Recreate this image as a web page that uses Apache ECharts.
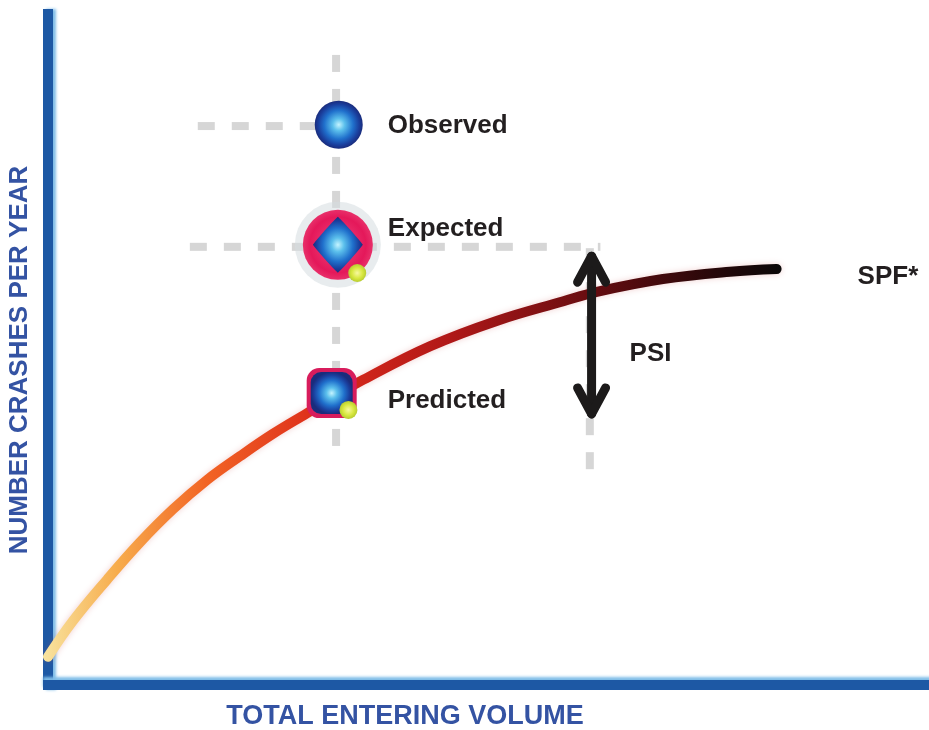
<!DOCTYPE html>
<html>
<head>
<meta charset="utf-8">
<title>Safety Performance Function</title>
<script src="https://cdn.jsdelivr.net/npm/echarts@6/dist/echarts.min.js"></script>
<style>
  html, body { margin: 0; padding: 0; background: #ffffff; }
  #chart { width: 929px; height: 730px; }
</style>
</head>
<body>
<div id="chart"></div>
<script>
// SPF curve: crashes per year against entering volume (relative units)
const curveX = [0, 2.8, 6.7, 10.4, 14.2, 18.1, 21.8, 25.5, 29.4, 32.4, 35.8, 43.4, 51.0, 58.5, 62.3, 69.8, 77.4, 82.7];
const curveY = [4.2, 9.5, 15.7, 21.2, 26.2, 30.6, 34.1, 37.4, 40.5, 42.9, 45.5, 50.5, 54.3, 57.2, 58.6, 60.5, 61.6, 62.0];

// The three crash estimates for one site
const pointNames = ['Observed', 'Expected', 'Predicted'];
const pointX = [33.0, 32.9, 32.2];
const pointY = [83.5, 65.6, 43.5];
// small badges next to Expected and Predicted
const badgeX = [35.1, 34.1];
const badgeY = [61.4, 41.0];

// dashed guide lines: [x1, y1, x2, y2]
const guides = [
  [17.0, 83.3, 30.6, 83.3],
  [32.7, 93.9, 32.7, 35.0],
  [16.1, 65.3, 62.7, 65.3],
  [61.5, 65.1, 61.5, 30.8]
];

// PSI span: x, top, bottom
const psi = [61.7, 63.9, 40.4];

const titleX = 'TOTAL ENTERING VOLUME';
const titleY = 'NUMBER CRASHES PER YEAR';
const curveName = 'SPF*';
const psiName = 'PSI';

const FONT = '"Liberation Sans", Arial, sans-serif';
const TEXT = '#231f20';
const AXIS_BLUE = '#1d58a4';
const AXIS_GLOW = '#7fbde8';
const TITLE_BLUE = '#3453a3';

function radial(stops) {
  return { type: 'radial', x: 0.5, y: 0.5, r: 0.5,
    colorStops: stops.map(s => ({ offset: s[0], color: s[1] })) };
}
const blueBall = radial([[0, '#c4f4ff'], [0.25, '#5cc0ec'], [0.6, '#2070cc'], [0.85, '#1a3f9e'], [1, '#1a2c7c']]);
const yellowDot = radial([[0, '#f8f8a0'], [0.6, '#d8e840'], [1, '#b8cc30']]);

const chart = echarts.init(document.getElementById('chart'), null, { renderer: 'canvas' });

const guideSeries = guides.map((g, i) => ({
  type: 'line',
  name: 'guide' + i,
  data: [[g[0], g[1]], [g[2], g[3]]],
  symbol: 'none',
  silent: true,
  z: 1,
  lineStyle: { color: '#d6d6d6', width: 8, type: [17, 17] }
}));

function marker(name, z, data, symbol, size, itemStyle) {
  return {
    type: 'scatter', name: name, z: z, silent: true,
    data: data, symbol: symbol, symbolSize: size,
    itemStyle: Object.assign({ opacity: 1 }, itemStyle)
  };
}

const option = {
  animation: false,
  backgroundColor: '#ffffff',
  grid: { left: 48, right: 0, top: 14, bottom: 45 },
  xAxis: {
    type: 'value', min: 0, max: 100,
    axisLine: { show: true, lineStyle: { color: AXIS_BLUE, width: 10, cap: 'square',
      shadowColor: AXIS_GLOW, shadowBlur: 3, shadowOffsetY: -3 } },
    axisTick: { show: false }, axisLabel: { show: false }, splitLine: { show: false }
  },
  yAxis: {
    type: 'value', min: 0, max: 100,
    axisLine: { show: true, lineStyle: { color: AXIS_BLUE, width: 10, cap: 'square',
      shadowColor: AXIS_GLOW, shadowBlur: 3, shadowOffsetX: 3 } },
    axisTick: { show: false }, axisLabel: { show: false }, splitLine: { show: false }
  },
  graphic: [
    {
      type: 'text', x: 405, y: 717,
      style: { text: titleX, fill: TITLE_BLUE, fontFamily: FONT, fontWeight: 'bold', fontSize: 27,
        align: 'center', verticalAlign: 'middle' }
    },
    {
      type: 'text', x: 20, y: 360, rotation: Math.PI / 2,
      style: { text: titleY, fill: TITLE_BLUE, fontFamily: FONT, fontWeight: 'bold', fontSize: 26,
        align: 'center', verticalAlign: 'middle' }
    }
  ],
  series: [
    ...guideSeries,
    {
      type: 'line',
      name: curveName,
      data: curveX.map((x, i) => [x, curveY[i]]),
      smooth: 0.4,
      symbol: 'none',
      z: 3,
      lineStyle: {
        width: 10,
        cap: 'round',
        shadowBlur: 6,
        shadowColor: 'rgba(200,70,70,0.25)',
        color: {
          type: 'linear', x: 0, y: 0, x2: 1, y2: 0,
          colorStops: [
            { offset: 0, color: '#f8e4a0' },
            { offset: 0.1, color: '#f7ac4c' },
            { offset: 0.22, color: '#f26424' },
            { offset: 0.38, color: '#dc2a1a' },
            { offset: 0.55, color: '#b01818' },
            { offset: 0.75, color: '#640c10' },
            { offset: 0.9, color: '#2a080a' },
            { offset: 1, color: '#0a0808' }
          ]
        }
      },
      endLabel: {
        show: true, formatter: curveName, distance: 81, offset: [0, 8],
        color: TEXT, fontFamily: FONT, fontWeight: 'bold', fontSize: 26
      }
    },
    // Expected: soft halo, red ring, blue core
    marker('expectedHalo', 4, [[pointX[1], pointY[1]]], 'circle', 86, { color: 'rgba(214,220,224,0.55)' }),
    marker('expectedRing', 5, [[pointX[1], pointY[1]]], 'circle', 70,
      { color: radial([[0, '#f04880'], [0.8, '#e4185a'], [1, '#e8306a']]) }),
    marker('expectedCore', 6, [[pointX[1], pointY[1]]],
      'path://M50,0 C64,12 88,36 100,50 C88,64 64,88 50,100 C36,88 12,64 0,50 C12,36 36,12 50,0 Z',
      [50, 56], { color: blueBall }),
    // Predicted: rounded square
    marker('predictedBox', 5, [[pointX[2], pointY[2]]], 'roundRect', 50, { color: '#d81c5c' }),
    marker('predictedCore', 6, [[pointX[2], pointY[2]]], 'roundRect', 42, { color: blueBall }),
    // Observed: plain ball
    marker('observed', 6, [[pointX[0], pointY[0]]], 'circle', 48, { color: blueBall }),
    marker('badges', 7, badgeX.map((x, i) => [x, badgeY[i]]), 'circle', 18, { color: yellowDot }),
    // labels for the three estimates
    {
      type: 'scatter', name: 'labels', z: 8, silent: true,
      symbolSize: 0,
      itemStyle: { opacity: 1 },
      data: pointNames.map((n, i) => ({
        name: n,
        value: [pointX[i], pointY[i]],
        label: {
          distance: [49, 50, 56][i],
          offset: [0, [1, -16, 8][i]]
        }
      })),
      label: {
        show: true, position: 'right', formatter: '{b}',
        color: TEXT, fontFamily: FONT, fontWeight: 'bold', fontSize: 26
      }
    },
    // PSI: double-headed arrow between predicted curve and expected level
    {
      type: 'custom', name: psiName, z: 9, silent: true,
      data: [psi],
      encode: { x: 0, y: [1, 2] },
      renderItem: function (params, api) {
        const top = api.coord([api.value(0), api.value(1)]);
        const bot = api.coord([api.value(0), api.value(2)]);
        const x = top[0];
        const stroke = { stroke: '#1c1a1a', lineWidth: 9, lineCap: 'round', lineJoin: 'round', fill: null };
        return {
          type: 'group',
          children: [
            { type: 'line', shape: { x1: x, y1: top[1], x2: x, y2: bot[1] }, style: stroke },
            { type: 'polyline', shape: { points: [[x - 14, top[1] + 26], [x, top[1]], [x + 14, top[1] + 26]] }, style: stroke },
            { type: 'polyline', shape: { points: [[x - 14, bot[1] - 26], [x, bot[1]], [x + 14, bot[1] - 26]] }, style: stroke },
            {
              type: 'text',
              style: {
                text: psiName, x: x + 38, y: (top[1] + bot[1]) / 2 + 19,
                fill: TEXT, fontFamily: FONT, fontWeight: 'bold', fontSize: 26,
                align: 'left', verticalAlign: 'middle'
              }
            }
          ]
        };
      }
    }
  ]
};

chart.setOption(option);
</script>
</body>
</html>
